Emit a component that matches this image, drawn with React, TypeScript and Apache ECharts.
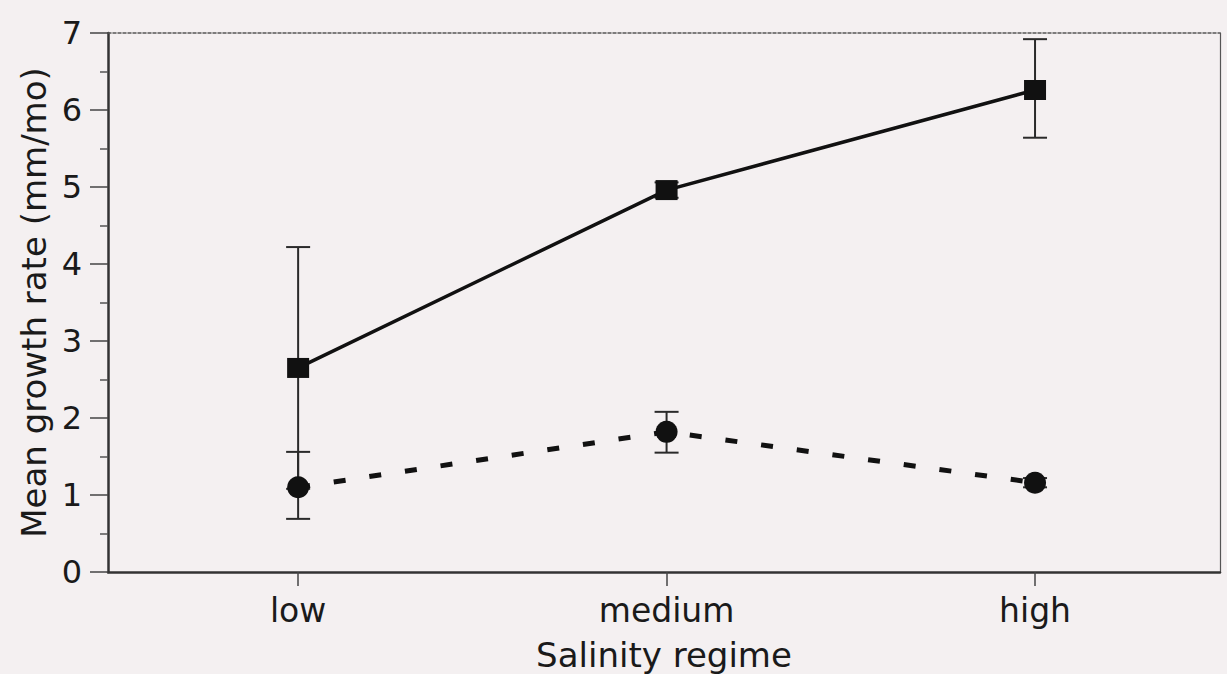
import React, { useEffect, useRef } from "react";
import * as echarts from "echarts";

const categories = ["low", "medium", "high"];
const squareMeans = [2.65, 4.96, 6.26];
const squareLow = [1.08, 4.86, 5.64];
const squareHigh = [4.22, 5.06, 6.92];
const circleMeans = [1.1, 1.82, 1.16];
const circleLow = [0.69, 1.55, 1.1];
const circleHigh = [1.56, 2.08, 1.22];
const yTicks = [0, 1, 2, 3, 4, 5, 6, 7];

const FONT = "'DejaVu Sans', 'Liberation Sans', Arial, sans-serif";
const INK = "#1a1a1a";

function errorSeries(lows: number[], highs: number[], name: string) {
  return {
    type: "custom",
    name,
    z: 1,
    data: lows.map((l, i) => [i, l, highs[i]]),
    renderItem: (_params: any, api: any) => {
      const x = api.value(0);
      const lo = api.coord([x, api.value(1)]);
      const hi = api.coord([x, api.value(2)]);
      const cap = 12;
      const style = { stroke: "#2a2a2a", lineWidth: 2 };
      return {
        type: "group",
        children: [
          { type: "line", shape: { x1: lo[0], y1: lo[1], x2: hi[0], y2: hi[1] }, style },
          { type: "line", shape: { x1: lo[0] - cap, y1: lo[1], x2: lo[0] + cap, y2: lo[1] }, style },
          { type: "line", shape: { x1: hi[0] - cap, y1: hi[1], x2: hi[0] + cap, y2: hi[1] }, style },
        ],
      };
    },
  };
}

export default function App() {
  const ref = useRef<HTMLDivElement>(null);
  useEffect(() => {
    document.body.style.margin = "0";
    document.body.style.background = "#f4f0f1";
    const chart = echarts.init(ref.current!, null, { renderer: "svg" });
    chart.setOption({
      animation: false,
      backgroundColor: "#f4f0f1",
      grid: { left: 108, right: 7, top: 33, bottom: 102, outerBoundsMode: "none", containLabel: false },
      xAxis: [
        {
          type: "value",
          min: -0.516,
          max: 2.502,
          name: "Salinity regime",
          nameLocation: "middle",
          nameGap: 66,
          nameTextStyle: { fontFamily: FONT, fontSize: 34, color: INK },
          axisLine: { show: true, onZero: false, lineStyle: { color: "#333", width: 2.5 } },
          axisTick: { show: true, length: 14, lineStyle: { color: "#444", width: 1.5 }, customValues: [0, 1, 2] },
          axisLabel: {
            customValues: [0, 1, 2],
            formatter: (v: number) => categories[Math.round(v)] ?? "",
            fontFamily: FONT,
            fontSize: 33,
            color: INK,
            margin: 22,
          },
          splitLine: { show: false },
        },
        {
          type: "value",
          position: "top",
          min: -0.516,
          max: 2.502,
          axisLine: { show: true, onZero: false, lineStyle: { color: "#555", width: 1.5, type: [3, 2] } },
          axisTick: { show: false },
          axisLabel: { show: false },
          splitLine: { show: false },
        },
      ],
      yAxis: [
        {
          type: "value",
          min: 0,
          max: 7,
          interval: 1,
          name: "Mean growth rate (mm/mo)",
          nameLocation: "middle",
          nameRotate: 90,
          nameGap: 56,
          nameTextStyle: { fontFamily: FONT, fontSize: 34, color: INK },
          axisLine: { show: true, onZero: false, lineStyle: { color: "#333", width: 2.5 } },
          axisTick: { show: true, length: 18, lineStyle: { color: "#444", width: 1.5 } },
          minorTick: { show: true, splitNumber: 2, length: 8, lineStyle: { color: "#555", width: 1.5 } },
          axisLabel: {
            fontFamily: FONT,
            fontSize: 32,
            color: INK,
            margin: 26,
            formatter: (v: number) => (yTicks.includes(v) ? String(v) : ""),
          },
          splitLine: { show: false },
        },
        {
          type: "value",
          position: "right",
          min: 0,
          max: 7,
          axisLine: { show: true, onZero: false, lineStyle: { color: "#555", width: 1.2 } },
          axisTick: { show: false },
          axisLabel: { show: false },
          splitLine: { show: false },
        },
      ],
      series: [
        errorSeries(squareLow, squareHigh, "square-err"),
        errorSeries(circleLow, circleHigh, "circle-err"),
        {
          type: "line",
          name: "squares",
          z: 3,
          data: squareMeans.map((v, i) => [i, v]),
          symbol: "rect",
          symbolSize: [22, 20],
          itemStyle: { color: "#111" },
          lineStyle: { color: "#111", width: 3.5 },
        },
        {
          type: "line",
          name: "circles",
          z: 4,
          data: circleMeans.map((v, i) => [i, v]),
          symbol: "circle",
          symbolSize: 22,
          itemStyle: { color: "#111" },
          lineStyle: { color: "#111", width: 5, type: [12, 24] },
        },
      ],
    });
    return () => chart.dispose();
  }, []);
  return <div ref={ref} style={{ width: 1227, height: 674 }} />;
}
